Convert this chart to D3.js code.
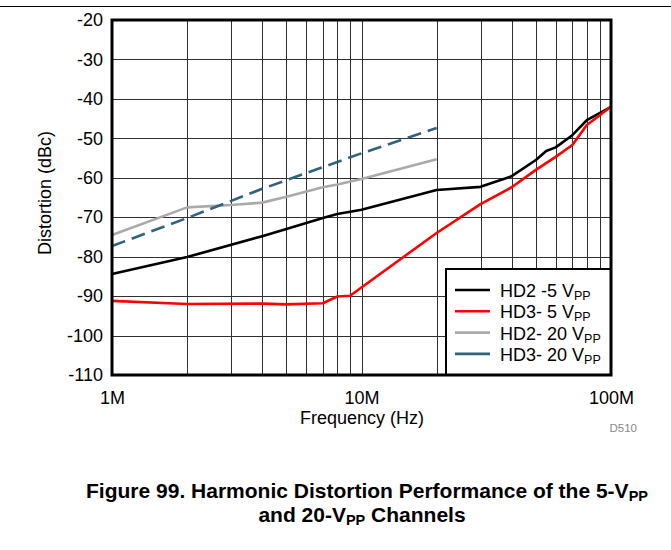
<!DOCTYPE html>
<html>
<head>
<meta charset="utf-8">
<script src="https://cdn.jsdelivr.net/npm/d3@7"></script>
<style>
  body { margin: 0; background: #fff; }
  svg { display: block; font-family: "Liberation Sans", Arial, sans-serif; }
</style>
</head>
<body>
<svg id="chart" width="671" height="550"></svg>
<script>
// ---- data ----
const hd2_5_freq = [1e6, 2e6, 4e6, 5e6, 7e6, 8e6, 10e6, 20e6, 30e6, 40e6, 50e6, 55e6, 60e6, 70e6, 80e6, 100e6];
const hd2_5_val  = [-84.4, -80.1, -74.8, -73.0, -70.2, -69.2, -68.1, -63.1, -62.3, -59.6, -55.5, -53.2, -52.3, -49.2, -45.4, -42.0];

const hd3_5_freq = [1e6, 2e6, 4e6, 5e6, 7e6, 8e6, 9e6, 20e6, 30e6, 40e6, 50e6, 60e6, 70e6, 80e6, 100e6];
const hd3_5_val  = [-91.2, -92.0, -91.9, -92.1, -91.8, -90.1, -89.9, -74.0, -66.7, -62.4, -58.0, -54.7, -51.7, -46.6, -42.0];

const hd2_20_freq = [1e6, 2e6, 3e6, 4e6, 5e6, 7e6, 8e6, 10e6, 20e6];
const hd2_20_val  = [-74.5, -67.5, -66.9, -66.3, -64.8, -62.4, -61.7, -60.3, -55.3];

const hd3_20_freq = [1e6, 2e6, 4e6, 7e6, 10e6, 20e6];
const hd3_20_val  = [-77.3, -70.2, -62.8, -57.3, -53.8, -47.4];

const seriesNames = ["HD2 -5 V", "HD3- 5 V", "HD2- 20 V", "HD3- 20 V"];
const seriesSub = "PP";
const seriesColors = ["#000000", "#ff0000", "#aaaaaa", "#31637f"];

const xTickValues = [1e6, 1e7, 1e8];
const xTickLabels = ["1M", "10M", "100M"];
const yTickValues = [-20, -30, -40, -50, -60, -70, -80, -90, -100, -110];

// ---- layout ----
const svg = d3.select("#chart");
const L = 112, R = 611, T = 20, B = 375;
const FONT = "Liberation Sans, Arial, sans-serif";

const x = d3.scaleLog().domain([1e6, 1e8]).range([L, R]);
const y = d3.scaleLinear().domain([-110, -20]).range([B, T]);

// top rule
svg.append("line").attr("x1", 0).attr("x2", 671).attr("y1", 6.5).attr("y2", 6.5)
  .attr("stroke", "#000").attr("stroke-width", 1.2);

// grid
const minor = [];
for (let d = 1e6; d < 1e8; d *= 10) for (let k = 2; k <= 9; k++) minor.push(d * k);
minor.push(1e7);
const g = svg.append("g");
g.selectAll("line.vx").data(minor).join("line")
  .attr("x1", d => Math.round(x(d)) + 0.5).attr("x2", d => Math.round(x(d)) + 0.5)
  .attr("y1", T).attr("y2", B).attr("stroke", "#303030").attr("stroke-width", 1);
g.selectAll("line.hy").data(yTickValues).join("line")
  .attr("y1", d => Math.round(y(d)) + 0.5).attr("y2", d => Math.round(y(d)) + 0.5)
  .attr("x1", L).attr("x2", R).attr("stroke", "#303030").attr("stroke-width", 1);

// series
const series = [
  {f: hd2_5_freq, v: hd2_5_val, dash: null},
  {f: hd3_5_freq, v: hd3_5_val, dash: null},
  {f: hd2_20_freq, v: hd2_20_val, dash: null},
  {f: hd3_20_freq, v: hd3_20_val, dash: "14,7"}
];
const line = d3.line().x(d => x(d[0])).y(d => y(d[1]));
series.forEach((s, i) => {
  svg.append("path")
    .datum(s.f.map((f, j) => [f, s.v[j]]))
    .attr("d", line).attr("fill", "none")
    .attr("stroke", seriesColors[i]).attr("stroke-width", 2.6)
    .attr("stroke-linejoin", "round")
    .attr("stroke-dasharray", s.dash);
});

// legend
const lg = svg.append("g");
lg.append("rect").attr("x", 446).attr("y", 269).attr("width", R - 446).attr("height", B - 269)
  .attr("fill", "#fff").attr("stroke", "#000").attr("stroke-width", 2);
seriesNames.forEach((n, i) => {
  const yy = 290 + i * 21.3;
  lg.append("line").attr("x1", 455).attr("x2", 490).attr("y1", yy).attr("y2", yy)
    .attr("stroke", seriesColors[i]).attr("stroke-width", 2.6);
  const t = lg.append("text").attr("x", 500).attr("y", yy + 7).attr("font-size", 18).attr("fill", "#000");
  t.append("tspan").text(n);
  t.append("tspan").attr("font-size", 12.5).attr("dy", 3).text(seriesSub);
});

// frame
svg.append("rect").attr("x", L).attr("y", T).attr("width", R - L).attr("height", B - T)
  .attr("fill", "none").attr("stroke", "#000").attr("stroke-width", 3);

// axes labels
const yAxis = d3.axisLeft(y).tickValues(yTickValues).tickSize(0).tickPadding(9).tickFormat(d => String(d));
const ya = svg.append("g").attr("transform", `translate(${L},0)`).call(yAxis);
ya.select(".domain").remove();
ya.selectAll("text").attr("font-size", 18).attr("font-family", FONT).attr("fill", "#000");

const xAxis = d3.axisBottom(x).tickValues(xTickValues).tickSize(0).tickPadding(16)
  .tickFormat((d, i) => xTickLabels[i]);
const xa = svg.append("g").attr("transform", `translate(0,${B})`).call(xAxis);
xa.select(".domain").remove();
xa.selectAll("text").attr("font-size", 18).attr("font-family", FONT).attr("fill", "#000");

svg.append("text").attr("x", 362).attr("y", 424).attr("text-anchor", "middle")
  .attr("font-size", 18).text("Frequency (Hz)");
svg.append("text").attr("x", 637).attr("y", 432).attr("text-anchor", "end")
  .attr("font-size", 11.5).attr("fill", "#8a8a8a").text("D510");
svg.append("text").attr("transform", "translate(51,193) rotate(-90)").attr("text-anchor", "middle")
  .attr("font-size", 18).text("Distortion (dBc)");

// title
const t1 = svg.append("text").attr("x", 367).attr("y", 498).attr("text-anchor", "middle")
  .attr("font-size", 21).attr("font-weight", "bold");
t1.append("tspan").text("Figure 99. Harmonic Distortion Performance of the 5-V");
t1.append("tspan").attr("font-size", 14.5).attr("dy", 3).text("PP");
const t2 = svg.append("text").attr("x", 362).attr("y", 522).attr("text-anchor", "middle")
  .attr("font-size", 21).attr("font-weight", "bold");
t2.append("tspan").text("and 20-V");
t2.append("tspan").attr("font-size", 14.5).attr("dy", 3).text("PP");
t2.append("tspan").attr("dy", -3).text(" Channels");
</script>
</body>
</html>
